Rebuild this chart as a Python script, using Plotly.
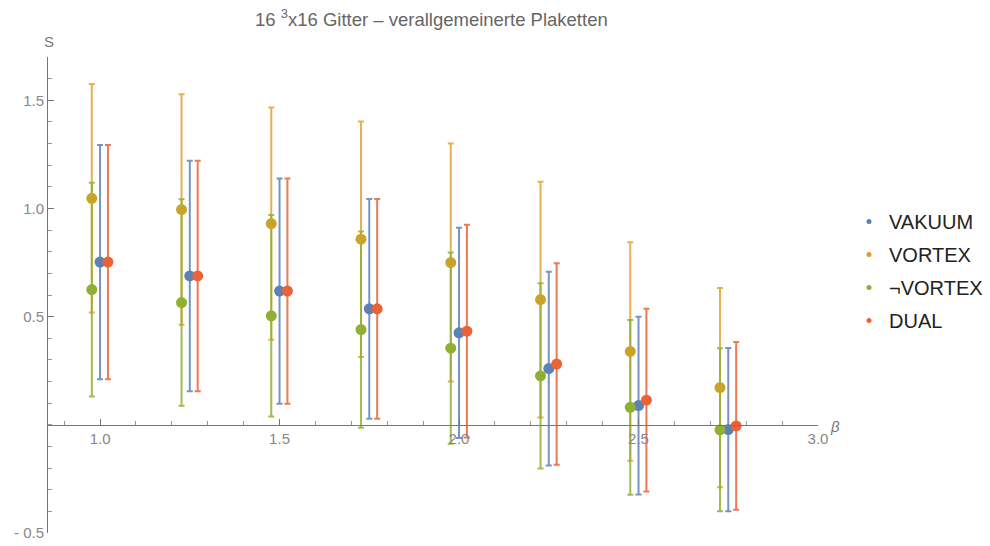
import plotly.graph_objects as go

beta = [1.0, 1.25, 1.5, 1.75, 2.0, 2.25, 2.5, 2.75]
offset_left = -0.023
offset_right = 0.022

series_names = ["VAKUUM", "VORTEX", "¬VORTEX", "DUAL"]

vakuum_y = [0.752, 0.688, 0.618, 0.536, 0.425, 0.260, 0.089, -0.022]
vakuum_err = [0.541, 0.533, 0.521, 0.508, 0.486, 0.448, 0.411, 0.377]

vortex_y = [1.047, 0.995, 0.930, 0.858, 0.750, 0.579, 0.339, 0.172]
vortex_err = [0.528, 0.533, 0.537, 0.544, 0.550, 0.545, 0.505, 0.460]

nvortex_y = [0.625, 0.565, 0.504, 0.440, 0.354, 0.226, 0.081, -0.023]
nvortex_err = [0.494, 0.477, 0.466, 0.453, 0.442, 0.428, 0.404, 0.377]

dual_y = [0.752, 0.688, 0.618, 0.536, 0.433, 0.281, 0.114, -0.005]
dual_err = [0.541, 0.533, 0.521, 0.508, 0.492, 0.466, 0.422, 0.388]

x_ticks = [1.0, 1.5, 2.0, 2.5, 3.0]
x_ticklabels = ["1.0", "1.5", "2.0", "2.5", "3.0"]
y_ticks = [-0.5, 0.5, 1.0, 1.5]
y_ticklabels = ["- 0.5", "0.5", "1.0", "1.5"]

point_colors = ["#5E81B5", "#C9A42A", "#8FB032", "#EB6235"]
bar_colors = ["rgba(94,129,181,0.85)", "rgba(225,156,36,0.8)",
              "rgba(143,176,50,0.85)", "rgba(235,98,53,0.85)"]
legend_colors = ["#5E81B5", "#E19C24", "#8FB032", "#EB6235"]

xs = [
    beta,
    [b + offset_left for b in beta],
    [b + offset_left for b in beta],
    [b + offset_right for b in beta],
]
ys = [vakuum_y, vortex_y, nvortex_y, dual_y]
errs = [vakuum_err, vortex_err, nvortex_err, dual_err]

fig = go.Figure()

# error bars
for i in range(4):
    fig.add_trace(go.Scatter(
        x=xs[i], y=ys[i], mode="markers",
        marker=dict(size=2, color="rgba(0,0,0,0)"),
        error_y=dict(type="data", array=errs[i], visible=True,
                     color=bar_colors[i], thickness=2, width=3),
        showlegend=False, hoverinfo="skip",
    ))

# points
for i in range(4):
    fig.add_trace(go.Scatter(
        x=xs[i], y=ys[i], mode="markers",
        marker=dict(size=11, color=point_colors[i]),
        showlegend=False, name=series_names[i],
    ))

# legend entries
for i in range(4):
    fig.add_trace(go.Scatter(
        x=[None], y=[None], mode="markers",
        marker=dict(size=5, color=legend_colors[i]),
        name=series_names[i], legendgroup=series_names[i], showlegend=True,
    ))

FONT = "Liberation Sans, Arial, sans-serif"
tick_font = dict(family=FONT, size=15, color="#888888")

PL, PT, PW, PH = 48, 57, 770, 476


def px_x(px):
    return (px - PL) / PW


def px_y(py):
    return (PT + PH - py) / PH


fig.update_layout(
    width=990, height=546,
    margin=dict(l=PL, r=990 - PL - PW, t=PT, b=546 - PT - PH, autoexpand=False),
    plot_bgcolor="white", paper_bgcolor="white",
    showlegend=True,
    legend=dict(
        x=px_x(849), xanchor="left", y=px_y(202), yanchor="top",
        font=dict(family=FONT, size=20, color="#222222"),
        tracegroupgap=4, itemwidth=30, bgcolor="rgba(0,0,0,0)",
    ),
    xaxis=dict(
        range=[0.855, 3.0], anchor="free", position=(0 - (-0.5)) / 2.2,
        automargin=False,
        showgrid=False, zeroline=False, showline=True, linecolor="#777777", linewidth=1,
        tickmode="array", tickvals=x_ticks, ticktext=x_ticklabels,
        ticks="inside", ticklen=6, tickcolor="#777777",
        tickfont=tick_font,
        minor=dict(tickmode="linear", tick0=0, dtick=0.1, ticks="inside",
                   ticklen=3.5, tickcolor="#999999", showgrid=False),
    ),
    yaxis=dict(
        range=[-0.5, 1.7],
        automargin=False,
        showgrid=False, zeroline=False, showline=True, linecolor="#777777", linewidth=1,
        tickmode="array", tickvals=y_ticks, ticktext=y_ticklabels,
        ticks="inside", ticklen=6, tickcolor="#777777",
        tickfont=tick_font,
        minor=dict(tickmode="linear", tick0=0, dtick=0.1, ticks="inside",
                   ticklen=3.5, tickcolor="#999999", showgrid=False),
    ),
    annotations=[
        dict(text="16 <sup>3</sup>x16 Gitter – verallgemeinerte Plaketten",
             xref="paper", yref="paper", x=px_x(431), y=px_y(18),
             xanchor="center", yanchor="middle", showarrow=False,
             font=dict(family=FONT, size=18.5, color="#666666")),
        dict(text="S", xref="paper", yref="paper", x=px_x(49), y=px_y(42),
             xanchor="center", yanchor="middle", showarrow=False,
             font=dict(family=FONT, size=15, color="#777777")),
        dict(text="<i>β</i>", xref="paper", yref="paper", x=px_x(835), y=px_y(426),
             xanchor="center", yanchor="middle", showarrow=False,
             font=dict(family=FONT, size=15, color="#777777")),
    ],
)

fig.write_html("out.html", config={"displayModeBar": False},
               post_script="document.body.style.margin='0';")
